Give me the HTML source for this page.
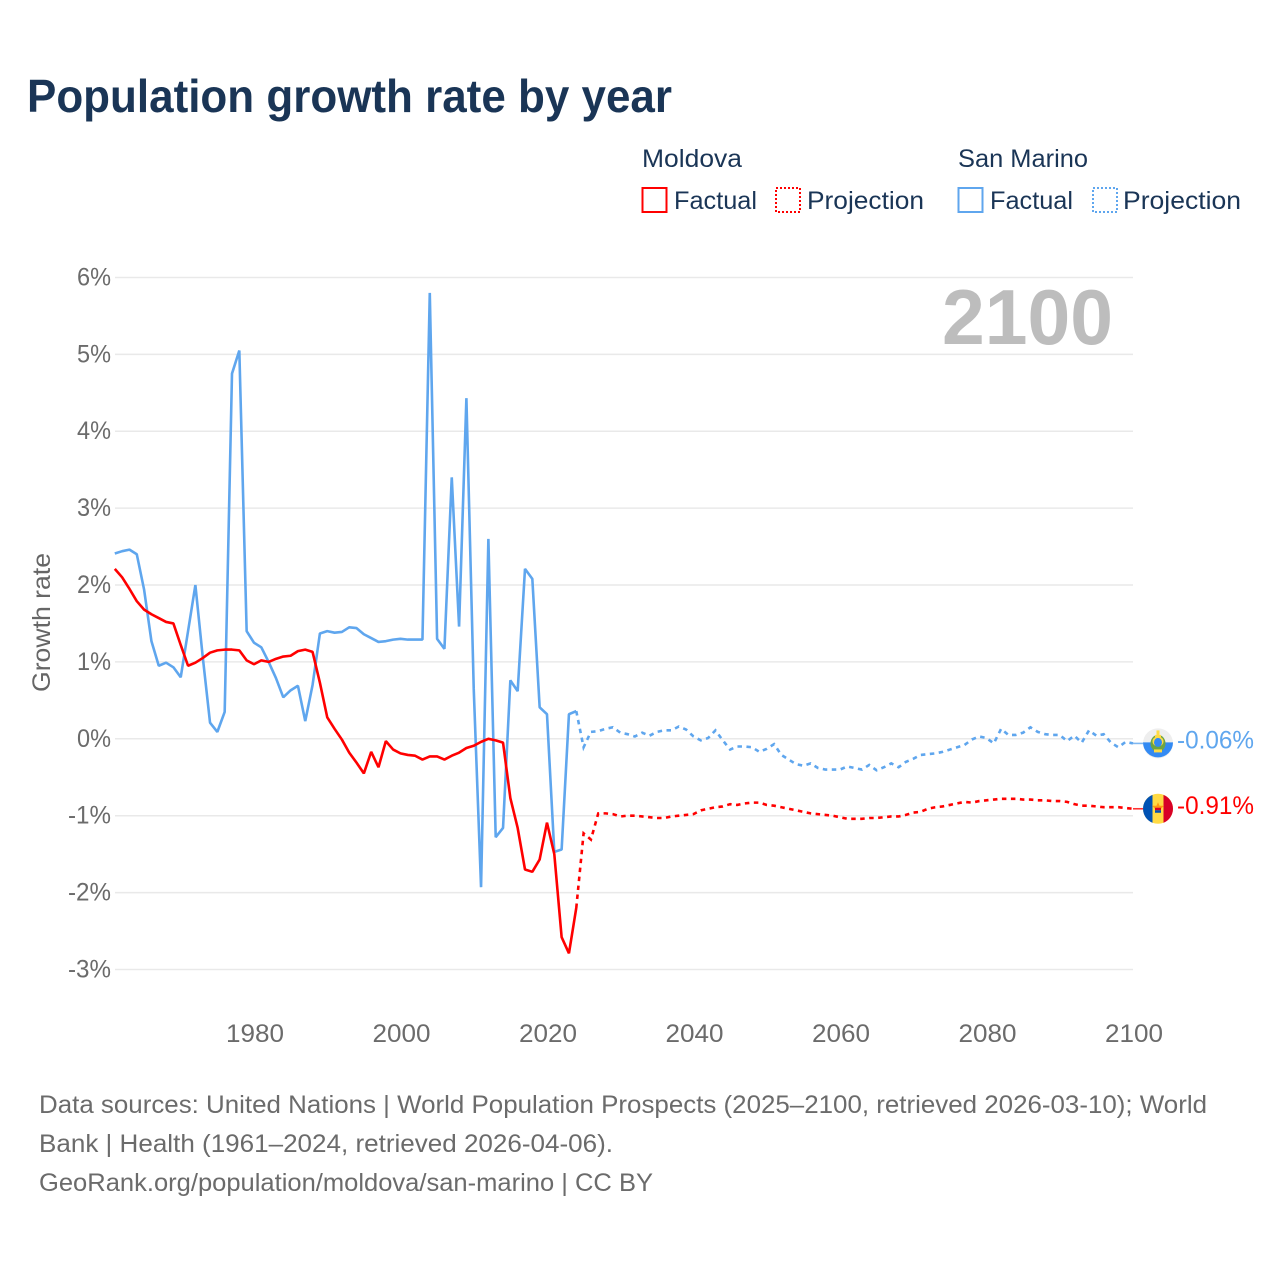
<!DOCTYPE html>
<html lang="en">
<head>
<meta charset="utf-8">
<title>Population growth rate by year</title>
<style>
html,body{margin:0;padding:0;background:#fff;width:1280px;height:1280px;overflow:hidden}
svg{display:block;font-family:"Liberation Sans",sans-serif}
</style>
</head>
<body>
<svg id="chart" width="1280" height="1280" viewBox="0 0 1280 1280" xmlns="http://www.w3.org/2000/svg">
  <text x="27" y="112" font-size="46" font-weight="700" fill="#1a3556" textLength="645" lengthAdjust="spacingAndGlyphs">Population growth rate by year</text>

  <g>
    <text x="642" y="167" font-size="25" fill="#1a3556" textLength="100" lengthAdjust="spacingAndGlyphs">Moldova</text>
    <text x="958" y="167" font-size="25" fill="#1a3556" textLength="130" lengthAdjust="spacingAndGlyphs">San Marino</text>
    <g>
      <rect x="642.5" y="188" width="24" height="24" fill="none" stroke="#ff0000" stroke-width="2"/>
      <text x="674" y="209" font-size="25" fill="#1a3556" textLength="83" lengthAdjust="spacingAndGlyphs">Factual</text>
    </g>
    <g>
      <rect x="776" y="188" width="24" height="24" fill="none" stroke="#ff0000" stroke-width="2" stroke-dasharray="2 2"/>
      <text x="807" y="209" font-size="25" fill="#1a3556" textLength="117" lengthAdjust="spacingAndGlyphs">Projection</text>
    </g>
    <g>
      <rect x="958.5" y="188" width="24" height="24" fill="none" stroke="#5fa6ee" stroke-width="2"/>
      <text x="990" y="209" font-size="25" fill="#1a3556" textLength="83" lengthAdjust="spacingAndGlyphs">Factual</text>
    </g>
    <g>
      <rect x="1093" y="188" width="24" height="24" fill="none" stroke="#5fa6ee" stroke-width="2" stroke-dasharray="2 2"/>
      <text x="1123" y="209" font-size="25" fill="#1a3556" textLength="118" lengthAdjust="spacingAndGlyphs">Projection</text>
    </g>
  </g>

  <g id="grid"></g>
  <g id="yAxis"></g>
  <g id="xAxis"></g>
  <text transform="translate(50,692) rotate(-90)" x="0" y="0" font-size="25" fill="#666666" textLength="139" lengthAdjust="spacingAndGlyphs">Growth rate</text>
  <text x="1113" y="344" font-size="78" font-weight="700" fill="#bdbdbd" text-anchor="end" textLength="171" lengthAdjust="spacingAndGlyphs">2100</text>
  <g id="series"></g>
  <g id="ends"></g>

  <g>
    <text x="39" y="1113" font-size="25" fill="#6b6b6b" textLength="1168" lengthAdjust="spacingAndGlyphs">Data sources: United Nations | World Population Prospects (2025–2100, retrieved 2026-03-10); World</text>
    <text x="39" y="1152" font-size="25" fill="#6b6b6b" textLength="574" lengthAdjust="spacingAndGlyphs">Bank | Health (1961–2024, retrieved 2026-04-06).</text>
    <text x="39" y="1191" font-size="25" fill="#6b6b6b" textLength="614" lengthAdjust="spacingAndGlyphs">GeoRank.org/population/moldova/san-marino | CC BY</text>
  </g>
</svg>

<script>
const yTicks = [6, 5, 4, 3, 2, 1, 0, -1, -2, -3];
const xTicks = [1980, 2000, 2020, 2040, 2060, 2080, 2100];
const factualStartYear = 1961;
const projectionStartYear = 2024;

const moldovaFactual = [
  2.21, 2.10, 1.95, 1.79, 1.68, 1.62, 1.57, 1.52, 1.50, 1.22,
  0.95, 0.99, 1.05, 1.12, 1.15, 1.16, 1.16, 1.15, 1.02, 0.97,
  1.02, 1.00, 1.04, 1.07, 1.08, 1.14, 1.16, 1.13, 0.73, 0.28,
  0.13, -0.01, -0.18, -0.31, -0.45, -0.17, -0.37, -0.03, -0.14, -0.19,
  -0.21, -0.22, -0.27, -0.23, -0.23, -0.27, -0.22, -0.18, -0.12, -0.09,
  -0.04, 0.00, -0.02, -0.05, -0.77, -1.16, -1.70, -1.73, -1.57, -1.09,
  -1.50, -2.58, -2.79, -2.20
];
const moldovaProjection = [
  -2.20, -1.23, -1.31, -0.97, -0.97, -0.98, -1.01, -1.00, -1.00, -1.01,
  -1.02, -1.03, -1.03, -1.01, -1.00, -0.99, -0.98, -0.93, -0.91, -0.89,
  -0.88, -0.85, -0.86, -0.84, -0.83, -0.83, -0.86, -0.87, -0.89, -0.91,
  -0.93, -0.95, -0.97, -0.98, -0.99, -1.00, -1.02, -1.04, -1.04, -1.04,
  -1.03, -1.03, -1.02, -1.01, -1.01, -0.99, -0.96, -0.95, -0.91, -0.89,
  -0.88, -0.86, -0.84, -0.82, -0.83, -0.81, -0.80, -0.79, -0.78, -0.78,
  -0.78, -0.79, -0.79, -0.80, -0.80, -0.81, -0.81, -0.82, -0.85, -0.87,
  -0.87, -0.88, -0.89, -0.89, -0.89, -0.90, -0.91
];
const sanMarinoFactual = [
  2.41, 2.44, 2.46, 2.40, 1.94, 1.27, 0.95, 0.99, 0.93, 0.80,
  1.40, 2.00, 1.07, 0.21, 0.09, 0.35, 4.75, 5.05, 1.40, 1.25,
  1.19, 1.00, 0.79, 0.54, 0.63, 0.69, 0.23, 0.70, 1.37, 1.40,
  1.38, 1.39, 1.45, 1.44, 1.36, 1.31, 1.26, 1.27, 1.29, 1.30,
  1.29, 1.29, 1.29, 5.80, 1.30, 1.17, 3.40, 1.46, 4.43, 0.65,
  -1.93, 2.60, -1.28, -1.16, 0.76, 0.62, 2.21, 2.08, 0.41, 0.32,
  -1.47, -1.44, 0.32, 0.36
];
const sanMarinoProjection = [
  0.36, -0.11, 0.09, 0.10, 0.13, 0.15, 0.08, 0.06, 0.03, 0.08,
  0.04, 0.09, 0.11, 0.11, 0.16, 0.12, 0.03, -0.02, 0.01, 0.11,
  -0.02, -0.14, -0.10, -0.10, -0.11, -0.17, -0.13, -0.07, -0.21, -0.27,
  -0.33, -0.35, -0.32, -0.38, -0.40, -0.40, -0.40, -0.36, -0.38, -0.40,
  -0.34, -0.41, -0.37, -0.32, -0.37, -0.30, -0.26, -0.21, -0.20, -0.19,
  -0.17, -0.14, -0.11, -0.08, -0.01, 0.03, 0.01, -0.06, 0.13, 0.05,
  0.05, 0.08, 0.15, 0.09, 0.06, 0.05, 0.05, -0.03, 0.04, -0.05,
  0.11, 0.04, 0.06, -0.05, -0.11, -0.04, -0.06
];

const SVG_NS = 'http://www.w3.org/2000/svg';
const RED = '#ff0000';
const BLUE = '#5fa6ee';

function xScale(year) { return 114.8 + (year - 1961) * 7.325; }
function yScale(value) { return 738.8 - value * 76.89; }

function make(tag, attrs, parent) {
  const node = document.createElementNS(SVG_NS, tag);
  Object.keys(attrs).forEach(function (k) { node.setAttribute(k, attrs[k]); });
  parent.appendChild(node);
  return node;
}

function linePoints(values, startYear) {
  return values.map(function (v, i) {
    return xScale(startYear + i).toFixed(2) + ',' + yScale(v).toFixed(2);
  }).join(' ');
}

const grid = document.getElementById('grid');
const yAxis = document.getElementById('yAxis');
const xAxis = document.getElementById('xAxis');
const series = document.getElementById('series');
const ends = document.getElementById('ends');

yTicks.forEach(function (t) {
  const gridline = make('line', { x1: 115, x2: 1133, y1: yScale(t), y2: yScale(t), stroke: '#e9e9e9', 'stroke-width': 1.5 }, grid);
  
  
  const label = String(t) + '%';
  const tickText = make('text', { x: 111, y: yScale(t) + 8, 'font-size': 25, fill: '#6b6b6b', 'text-anchor': 'end', textLength: t < 0 ? 43 : 34, lengthAdjust: 'spacingAndGlyphs' }, yAxis);
  tickText.textContent = label;
  
  
});

xTicks.forEach(function (t) {
  const tickText = make('text', { x: xScale(t) + 1, y: 1042, 'font-size': 25, fill: '#6b6b6b', 'text-anchor': 'middle', textLength: 58, lengthAdjust: 'spacingAndGlyphs' }, xAxis);
  tickText.textContent = String(t);
  
  
});

const sanFactualLine = make('polyline', { points: linePoints(sanMarinoFactual, factualStartYear), fill: 'none', stroke: BLUE, 'stroke-width': 2.6, 'stroke-linejoin': 'bevel' }, series);



const sanProjectionLine = make('polyline', { points: linePoints(sanMarinoProjection, projectionStartYear), fill: 'none', stroke: BLUE, 'stroke-width': 2.6, 'stroke-dasharray': '4.5 4.5' }, series);



const moldovaFactualLine = make('polyline', { points: linePoints(moldovaFactual, factualStartYear), fill: 'none', stroke: RED, 'stroke-width': 2.6, 'stroke-linejoin': 'bevel' }, series);



const moldovaProjectionLine = make('polyline', { points: linePoints(moldovaProjection, projectionStartYear), fill: 'none', stroke: RED, 'stroke-width': 2.6, 'stroke-dasharray': '4.5 4.5' }, series);



function endMarker(values, color, groupName, labelName, connectorName, drawFlag) {
  const last = values[values.length - 1];
  const cy = yScale(last);
  const connector = make('line', { x1: 1133, x2: 1143, y1: cy, y2: cy, stroke: color, 'stroke-width': 1.6, opacity: 0.8 }, ends);
  
  
  const flag = make('g', { transform: 'translate(1158,' + cy.toFixed(2) + ')' }, ends);
  
  
  drawFlag(flag);
  const valueText = make('text', { x: 1177, y: cy + 5, 'font-size': 25, fill: color, textLength: 77, lengthAdjust: 'spacingAndGlyphs' }, ends);
  valueText.textContent = last.toFixed(2) + '%';
  
  
}

function drawSanMarinoFlag(g) {
  make('circle', { r: 15, fill: '#eeeeee' }, g);
  make('path', { d: 'M-15 -1A15 15 0 0 0 15 -1Z', fill: '#338af3' }, g);
  make('ellipse', { cx: 0, cy: 0, rx: 7.5, ry: 8.5, fill: '#6da544' }, g);
  make('ellipse', { cx: 0, cy: -2, rx: 5.5, ry: 5, fill: '#ffda44' }, g);
  make('ellipse', { cx: 0, cy: -1, rx: 4, ry: 4.5, fill: '#338af3' }, g);
  make('rect', { x: -1.5, y: -13, width: 3, height: 5, fill: '#ffda44' }, g);
  make('rect', { x: -3, y: -8.5, width: 6, height: 3, fill: '#ffda44' }, g);
  make('rect', { x: -4, y: 6, width: 8, height: 3, fill: '#ffda44' }, g);
}

function drawMoldovaFlag(g) {
  make('circle', { r: 15, fill: '#ffda44' }, g);
  make('path', { d: 'M-5.5 -13.95A15 15 0 0 0 -5.5 13.95Z', fill: '#0052b4' }, g);
  make('path', { d: 'M5.5 -13.95A15 15 0 0 1 5.5 13.95Z', fill: '#d80027' }, g);
  make('path', { d: 'M-6 -3L-1.5 -3L0 -6.5L1.5 -3L6 -3L3 0L-3 0Z', fill: '#ff9811' }, g);
  make('rect', { x: -3, y: -1, width: 6, height: 2.5, fill: '#d80027' }, g);
  make('rect', { x: -3, y: 1.5, width: 6, height: 2.5, fill: '#0052b4' }, g);
}

endMarker(sanMarinoProjection, BLUE, 'san-marino-flag', 'san-marino-end-value', 'san-marino-connector', drawSanMarinoFlag);
endMarker(moldovaProjection, RED, 'moldova-flag', 'moldova-end-value', 'moldova-connector', drawMoldovaFlag);
</script>
</body>
</html>
